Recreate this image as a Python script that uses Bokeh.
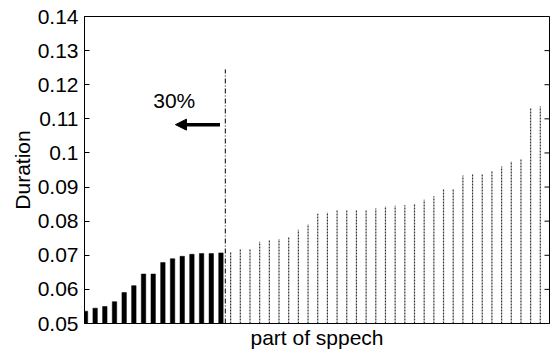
from math import pi
from bokeh.plotting import figure
from bokeh.models import Range1d, FixedTicker, Arrow, NormalHead, Label, Title, ColumnDataSource
from bokeh.embed import file_html
from bokeh.resources import INLINE

# ---- data ----
short_durations = [0.0536, 0.0545, 0.0550, 0.0564, 0.0591, 0.0611, 0.0645, 0.0645,
                   0.0679, 0.0690, 0.0697, 0.0703, 0.0705, 0.0705, 0.0707]
long_durations = [0.0709, 0.0717, 0.0718, 0.0740, 0.0743, 0.0748, 0.0752, 0.0775,
                  0.0791, 0.0822, 0.0826, 0.0831, 0.0832, 0.0833, 0.0834, 0.0837,
                  0.0844, 0.0845, 0.0847, 0.0852, 0.0863, 0.0873, 0.0894, 0.0896,
                  0.0934, 0.0937, 0.0938, 0.0947, 0.0960, 0.0976, 0.0981, 0.1131,
                  0.1136]
y_ticks = [0.05, 0.06, 0.07, 0.08, 0.09, 0.10, 0.11, 0.12, 0.13, 0.14]
y_tick_labels = ["0.05", "0.06", "0.07", "0.08", "0.09", "0.1", "0.11", "0.12", "0.13", "0.14"]
y_title = "Duration"
x_title = "part of sppech"
y_base = 0.05
cut_position = 15.45
cut_top = 0.1245
arrow_from = 14.9
arrow_to = 10.3
arrow_level = 0.1083
note_text = "30%"
note_x = 8.0
note_y = 0.1154

FONT = "Liberation Sans"
X_START, X_END = 0.9, 48.95

n_short = len(short_durations)
x_short = list(range(1, n_short + 1))
x_long = list(range(n_short + 1, n_short + len(long_durations) + 1))

p = figure(width=551, height=351, output_backend="svg", toolbar_location=None,
           x_range=Range1d(X_START, X_END), y_range=Range1d(0.05, 0.14),
           min_border_left=84, min_border_right=2, min_border_top=16, min_border_bottom=28)
p.background_fill_color = "white"
p.border_fill_color = "white"
p.grid.visible = False
p.outline_line_color = "black"
p.outline_line_width = 1

# bars
src_s = ColumnDataSource(dict(x=x_short, top=short_durations))
p.vbar(x="x", top="top", bottom=y_base, width=0.46, source=src_s,
       fill_color="black", line_color="black", line_width=0.5)
src_l = ColumnDataSource(dict(x=x_long, top=long_durations, bottom=[y_base] * len(long_durations)))
p.segment(x0="x", y0="bottom", x1="x", y1="top", source=src_l,
          line_color="#333333", line_width=1.2, line_dash="2 1")

# cut line
p.segment(x0=[cut_position], y0=[y_base], x1=[cut_position], y1=[cut_top],
          line_color="black", line_width=1, line_dash="5 2 1 2")

# arrow and note
p.add_layout(Arrow(end=NormalHead(size=11, fill_color="black", line_color="black"),
                   x_start=arrow_from, y_start=arrow_level, x_end=arrow_to, y_end=arrow_level,
                   line_width=3.5, line_color="black"))
p.add_layout(Label(x=note_x, y=note_y, text=note_text, text_font=FONT,
                   text_font_size="21px", text_baseline="middle", text_align="left",
                   text_color="black"))

# right-side inward ticks
p.ray(x=[X_END] * len(y_ticks), y=y_ticks, length=5, length_units="screen",
      angle=pi, line_color="black", line_width=1)

# y axis
ya = p.yaxis[0]
ya.ticker = FixedTicker(ticks=y_ticks)
ya.major_label_overrides = {t: l for t, l in zip(y_ticks, y_tick_labels)}
ya.major_tick_in = 5
ya.major_tick_out = 0
ya.minor_tick_in = 0
ya.minor_tick_out = 0
ya.major_label_text_font = FONT
ya.major_label_text_font_size = "21px"
ya.major_label_text_color = "black"
ya.major_label_standoff = 6
ya.axis_line_color = "black"

# y title, shifted slightly below the frame centre as in the reference
p.add_layout(Title(text=y_title, align="center", offset=-18, standoff=2,
                   text_font=FONT, text_font_size="21px", text_font_style="normal",
                   text_color="black"), "left")

# x axis
xa = p.xaxis[0]
xa.ticker = FixedTicker(ticks=[])
xa.major_tick_in = 0
xa.major_tick_out = 0
xa.minor_tick_in = 0
xa.minor_tick_out = 0
xa.major_label_standoff = 0
xa.axis_label = x_title
xa.axis_label_text_font = FONT
xa.axis_label_text_font_size = "21px"
xa.axis_label_text_font_style = "normal"
xa.axis_label_text_color = "black"
xa.axis_label_standoff = 2
xa.axis_line_color = "black"

open("out.html", "w").write(file_html(p, INLINE))
